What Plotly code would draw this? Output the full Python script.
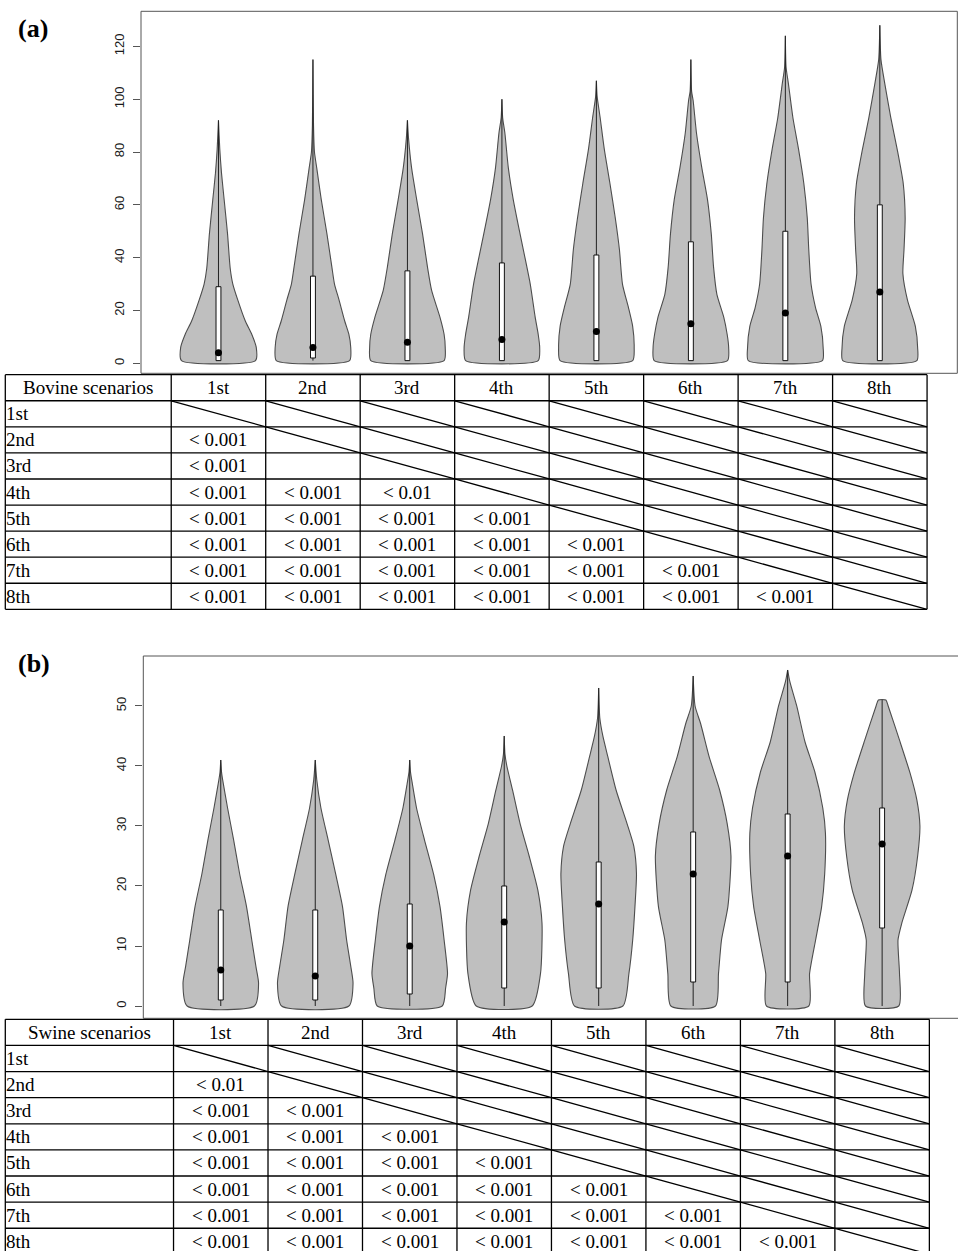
import plotly.graph_objects as go

W, H = 958, 1251

scenarios = ["1st", "2nd", "3rd", "4th", "5th", "6th", "7th", "8th"]
positions = [1, 2, 3, 4, 5, 6, 7, 8]

# ---------------- Bovine scenarios ----------------
bovine_min = [1, 1, 1, 1, 1, 1, 1, 1]
bovine_q1 = [1, 2, 1, 1, 1, 1, 1, 1]
bovine_median = [4, 6, 8, 9, 12, 15, 19, 27]
bovine_q3 = [29, 33, 35, 38, 41, 46, 50, 60]
bovine_max = [92, 115, 92, 100, 107, 115, 124, 128]

# density outline: value levels and relative half-widths
bovine_kde_v = [
    [1, 6, 11, 16, 24, 30, 36, 49, 62, 72, 81, 92],
    [1, 6, 11, 16, 24, 30, 36.5, 49, 62, 74, 80, 90, 115],
    [1, 6, 11, 17.5, 27.6, 36.5, 49, 62, 74, 85, 92],
    [1, 6, 11, 17.5, 30, 40, 49, 62, 74, 87, 93, 100],
    [1, 6, 14, 21, 30, 43, 55, 68, 81, 93, 101, 107],
    [1, 6, 11, 17.5, 26, 36.5, 49, 62, 74, 87, 99.5, 103, 115],
    [1, 6, 14, 21, 30, 43, 55, 68, 81, 93, 106, 112, 124],
    [1, 6, 14, 24, 34, 43, 55, 68, 81, 93, 106, 115, 128],
]
bovine_kde_w = [
    [0.98, 1.0, 0.88, 0.71, 0.51, 0.38, 0.31, 0.24, 0.15, 0.08, 0.035, 0],
    [0.97, 1.0, 0.95, 0.84, 0.69, 0.57, 0.50, 0.37, 0.22, 0.10, 0.04, 0.015, 0],
    [0.97, 1.0, 0.97, 0.86, 0.64, 0.53, 0.40, 0.245, 0.11, 0.03, 0],
    [0.96, 1.0, 0.96, 0.88, 0.75, 0.61, 0.48, 0.30, 0.17, 0.08, 0.02, 0],
    [0.96, 1.0, 0.96, 0.85, 0.69, 0.61, 0.50, 0.36, 0.21, 0.10, 0.02, 0],
    [0.97, 1.0, 0.96, 0.87, 0.69, 0.60, 0.54, 0.44, 0.29, 0.15, 0.06, 0.02, 0],
    [0.98, 1.0, 0.94, 0.80, 0.68, 0.62, 0.58, 0.49, 0.35, 0.20, 0.08, 0.02, 0],
    [0.98, 1.0, 0.94, 0.73, 0.61, 0.64, 0.67, 0.62, 0.46, 0.29, 0.13, 0.03, 0],
]

bovine_p = [
    [],
    ["< 0.001"],
    ["< 0.001", ""],
    ["< 0.001", "< 0.001", "< 0.01"],
    ["< 0.001", "< 0.001", "< 0.001", "< 0.001"],
    ["< 0.001", "< 0.001", "< 0.001", "< 0.001", "< 0.001"],
    ["< 0.001", "< 0.001", "< 0.001", "< 0.001", "< 0.001", "< 0.001"],
    ["< 0.001", "< 0.001", "< 0.001", "< 0.001", "< 0.001", "< 0.001", "< 0.001"],
]

# ---------------- Swine scenarios ----------------
swine_min = [0, 0, 0, 0, 0, 0, 0, 0]
swine_q1 = [1, 1, 2, 3, 3, 4, 4, 13]
swine_median = [6, 5, 10, 14, 17, 22, 25, 27]
swine_q3 = [16, 16, 17, 20, 24, 29, 32, 33]
swine_max = [41, 41, 41, 45, 53, 55, 56, 51]

swine_kde_v = [
    [0, 3.8, 6.6, 11, 16.6, 22, 27.7, 33, 37.7, 39, 41],
    [0, 3.8, 6.6, 11, 16.6, 22, 27.7, 33, 37.7, 41],
    [0, 3, 5.4, 11, 16.6, 22, 27.7, 33, 37, 39, 41],
    [0, 5.4, 13.8, 19.3, 25, 30.4, 36, 40, 42, 45],
    [0, 5.4, 11, 16.6, 22, 26.6, 30.4, 36, 41.6, 45, 48, 53],
    [0, 5.4, 11, 16.6, 25, 30.4, 36, 41.6, 47, 50, 55],
    [0, 5.4, 11, 16.6, 22, 28.8, 33, 39, 44, 50, 54, 56],
    [0, 5.4, 11, 13.8, 19.3, 25, 30, 34.3, 38.8, 44.3, 50, 51],
]
swine_kde_w = [
    [0.89, 1.0, 0.93, 0.82, 0.68, 0.50, 0.34, 0.18, 0.05, 0.02, 0],
    [0.89, 1.0, 0.94, 0.83, 0.72, 0.54, 0.34, 0.15, 0.04, 0],
    [0.86, 0.95, 1.0, 0.91, 0.80, 0.63, 0.39, 0.18, 0.07, 0.02, 0],
    [0.74, 0.96, 1.0, 0.89, 0.66, 0.42, 0.22, 0.07, 0.02, 0],
    [0.64, 0.80, 0.90, 0.96, 1.0, 0.93, 0.75, 0.46, 0.24, 0.11, 0.03, 0],
    [0.59, 0.67, 0.75, 0.92, 1.0, 0.90, 0.70, 0.42, 0.20, 0.05, 0],
    [0.56, 0.58, 0.74, 0.90, 0.98, 1.0, 0.93, 0.72, 0.46, 0.24, 0.06, 0],
    [0.44, 0.46, 0.42, 0.52, 0.79, 0.94, 1.0, 0.92, 0.74, 0.46, 0.16, 0.10],
]

swine_p = [
    [],
    ["< 0.01"],
    ["< 0.001", "< 0.001"],
    ["< 0.001", "< 0.001", "< 0.001"],
    ["< 0.001", "< 0.001", "< 0.001", "< 0.001"],
    ["< 0.001", "< 0.001", "< 0.001", "< 0.001", "< 0.001"],
    ["< 0.001", "< 0.001", "< 0.001", "< 0.001", "< 0.001", "< 0.001"],
    ["< 0.001", "< 0.001", "< 0.001", "< 0.001", "< 0.001", "< 0.001", "< 0.001"],
]

# ---------------- styling ----------------
VIOLIN_FILL = "#bfbfbf"
VIOLIN_LINE = "#4d4d4d"
HALF_WIDTH = 0.4      # max half-width of a violin, in category units
BOX_HALF = 0.026      # half-width of the white inter-quartile box
SERIF = "Liberation Serif"
SANS = "Liberation Sans"

fig = go.Figure()


def add_violins(xa, ya, vmin, q1, med, q3, vmax, kde_v, kde_w):
    for i, pos in enumerate(positions):
        lv, lw = kde_v[i], kde_w[i]
        xr = [pos + HALF_WIDTH * w for w in lw]
        xl = [pos - HALF_WIDTH * w for w in reversed(lw)]
        xs = xr + xl + [xr[0]]
        ys = list(lv) + list(reversed(lv)) + [lv[0]]
        fig.add_trace(go.Scatter(
            x=xs, y=ys, xaxis=xa, yaxis=ya, mode="lines",
            fill="toself", fillcolor=VIOLIN_FILL,
            line=dict(color=VIOLIN_LINE, width=1.1, shape="spline", smoothing=0.6),
            hoverinfo="skip"))
    # whiskers
    wx, wy = [], []
    for i, pos in enumerate(positions):
        wx += [pos, pos, None]
        wy += [vmin[i], vmax[i], None]
    fig.add_trace(go.Scatter(x=wx, y=wy, xaxis=xa, yaxis=ya, mode="lines",
                             line=dict(color="#222222", width=1), hoverinfo="skip"))
    # inter-quartile boxes
    for i, pos in enumerate(positions):
        fig.add_trace(go.Scatter(
            x=[pos - BOX_HALF, pos + BOX_HALF, pos + BOX_HALF, pos - BOX_HALF, pos - BOX_HALF],
            y=[q1[i], q1[i], q3[i], q3[i], q1[i]],
            xaxis=xa, yaxis=ya, mode="lines", fill="toself", fillcolor="white",
            line=dict(color="#111111", width=1), hoverinfo="skip"))
    # medians
    fig.add_trace(go.Scatter(x=positions, y=med, xaxis=xa, yaxis=ya, mode="markers",
                             marker=dict(color="black", size=7, line=dict(width=0)),
                             hoverinfo="skip"))


add_violins("x", "y", bovine_min, bovine_q1, bovine_median, bovine_q3, bovine_max,
            bovine_kde_v, bovine_kde_w)
add_violins("x2", "y2", swine_min, swine_q1, swine_median, swine_q3, swine_max,
            swine_kde_v, swine_kde_w)

# ---------------- panel geometry (pixels) ----------------
XR = [0.18, 8.82]
pa = dict(left=141.0, right=957.3, top=11.3, bottom=373.3)
pb = dict(left=143.3, right=958.0, top=656.0, bottom=1018.3)
ppu_a = (pa["right"] - pa["left"]) / (XR[1] - XR[0])
ppu_b = ppu_a
xr_b = [XR[0], XR[0] + (pb["right"] - pb["left"]) / ppu_b]

ta = dict(top=374.7, row=26.07, left=5.3, dom_top=370.0, dom_bottom=614.0)
tb = dict(top=1019.3, row=26.12, left=5.3, dom_top=1015.0, dom_bottom=1251.0)


def ydom(top, bottom):
    return [1 - bottom / H, 1 - top / H]


def table_axes(panel, ppu, xr, tbl):
    t0 = xr[0] - panel["left"] / ppu
    t1 = t0 + W / ppu
    r_top = (tbl["dom_top"] - tbl["top"]) / tbl["row"]
    r_bot = (tbl["dom_bottom"] - tbl["top"]) / tbl["row"]
    left = t0 + tbl["left"] / ppu
    return [t0, t1], [r_bot, r_top], left


tx_a, ty_a, left_a = table_axes(pa, ppu_a, XR, ta)
tx_b, ty_b, left_b = table_axes(pb, ppu_b, xr_b, tb)

# empty traces so the table subplots exist
fig.add_trace(go.Scatter(x=[], y=[], xaxis="x3", yaxis="y3", hoverinfo="skip"))
fig.add_trace(go.Scatter(x=[], y=[], xaxis="x4", yaxis="y4", hoverinfo="skip"))

axis_common = dict(showgrid=False, zeroline=False, showline=False)
TICKFONT = dict(family=SANS, size=13, color="#1a1a1a")
fig.update_layout(
    width=W, height=H, margin=dict(l=0, r=0, t=0, b=0),
    paper_bgcolor="white", plot_bgcolor="white", showlegend=False,
    xaxis=dict(domain=[pa["left"] / W, pa["right"] / W], range=XR, anchor="y",
               tickvals=positions, ticks="outside", ticklen=6, tickcolor="#555",
               showticklabels=False, **axis_common),
    yaxis=dict(domain=ydom(pa["top"], pa["bottom"]), range=[-3.8, 133.3], anchor="x",
               tickvals=[0, 20, 40, 60, 80, 100, 120], ticks="outside", ticklen=7,
               tickcolor="#555", tickangle=-90, ticklabelstandoff=4,
               tickfont=TICKFONT, **axis_common),
    xaxis2=dict(domain=[pb["left"] / W, 1.0], range=xr_b, anchor="y2",
                tickvals=positions, ticks="outside", ticklen=6, tickcolor="#555",
                showticklabels=False, **axis_common),
    yaxis2=dict(domain=ydom(pb["top"], pb["bottom"]), range=[-2.05, 58.33], anchor="x2",
                tickvals=[0, 10, 20, 30, 40, 50], ticks="outside", ticklen=7,
                tickcolor="#555", tickangle=-90, ticklabelstandoff=4,
                tickfont=TICKFONT, **axis_common),
    xaxis3=dict(domain=[0, 1], range=tx_a, anchor="y3", visible=False),
    yaxis3=dict(domain=ydom(ta["dom_top"], ta["dom_bottom"]), range=ty_a, anchor="x3",
                visible=False),
    xaxis4=dict(domain=[0, 1], range=tx_b, anchor="y4", visible=False),
    yaxis4=dict(domain=ydom(tb["dom_top"], tb["dom_bottom"]), range=ty_b, anchor="x4",
                visible=False),
)

shapes = []
# plot frames
shapes.append(dict(type="rect", xref="x domain", yref="y domain", x0=0, x1=1, y0=0, y1=1,
                   line=dict(color="#555", width=1), layer="above"))
shapes.append(dict(type="rect", xref="x2 domain", yref="y2 domain", x0=0, x1=1.02, y0=0, y1=1,
                   line=dict(color="#555", width=1), layer="above"))

annotations = []
TLINE = dict(color="black", width=1.3)
TFONT = dict(family=SERIF, size=19, color="black")


def add_table(xref, yref, left, header, pvals):
    n = len(scenarios)
    right = n + 0.5
    for r in range(n + 2):
        shapes.append(dict(type="line", xref=xref, yref=yref, x0=left, x1=right,
                           y0=r, y1=r, line=TLINE, layer="above"))
    for xv in [left] + [k + 0.5 for k in range(n + 1)]:
        shapes.append(dict(type="line", xref=xref, yref=yref, x0=xv, x1=xv,
                           y0=0, y1=n + 1, line=TLINE, layer="above"))
    # diagonal strokes in the upper triangle
    for r in range(1, n + 1):
        for c in range(r, n + 1):
            shapes.append(dict(type="line", xref=xref, yref=yref, x0=c - 0.5, x1=c + 0.5,
                               y0=r, y1=r + 1, line=TLINE, layer="above"))
    annotations.append(dict(xref=xref, yref=yref, x=(left + 0.5) / 2, y=0.5, text=header,
                            showarrow=False, font=TFONT, xanchor="center", yanchor="middle"))
    for c, name in enumerate(scenarios, start=1):
        annotations.append(dict(xref=xref, yref=yref, x=c, y=0.5, text=name,
                                showarrow=False, font=TFONT, xanchor="center", yanchor="middle"))
    for r, name in enumerate(scenarios, start=1):
        annotations.append(dict(xref=xref, yref=yref, x=left, y=r + 0.5, text=name,
                                showarrow=False, font=TFONT, xanchor="left", yanchor="middle",
                                xshift=-1))
        for c, txt in enumerate(pvals[r - 1], start=1):
            if txt:
                annotations.append(dict(xref=xref, yref=yref, x=c, y=r + 0.5, text=txt,
                                        showarrow=False, font=TFONT,
                                        xanchor="center", yanchor="middle"))


add_table("x3", "y3", left_a, "Bovine scenarios", bovine_p)
add_table("x4", "y4", left_b, "Swine scenarios", swine_p)

annotations.append(dict(xref="paper", yref="paper", x=16 / W, y=1 - 28 / H, text="<b>(a)</b>",
                        showarrow=False, xanchor="left", yanchor="middle",
                        font=dict(family=SERIF, size=26, color="black")))
annotations.append(dict(xref="paper", yref="paper", x=16 / W, y=1 - 663 / H, text="<b>(b)</b>",
                        showarrow=False, xanchor="left", yanchor="middle",
                        font=dict(family=SERIF, size=26, color="black")))

fig.update_layout(shapes=shapes, annotations=annotations)
fig.write_html("out.html")
